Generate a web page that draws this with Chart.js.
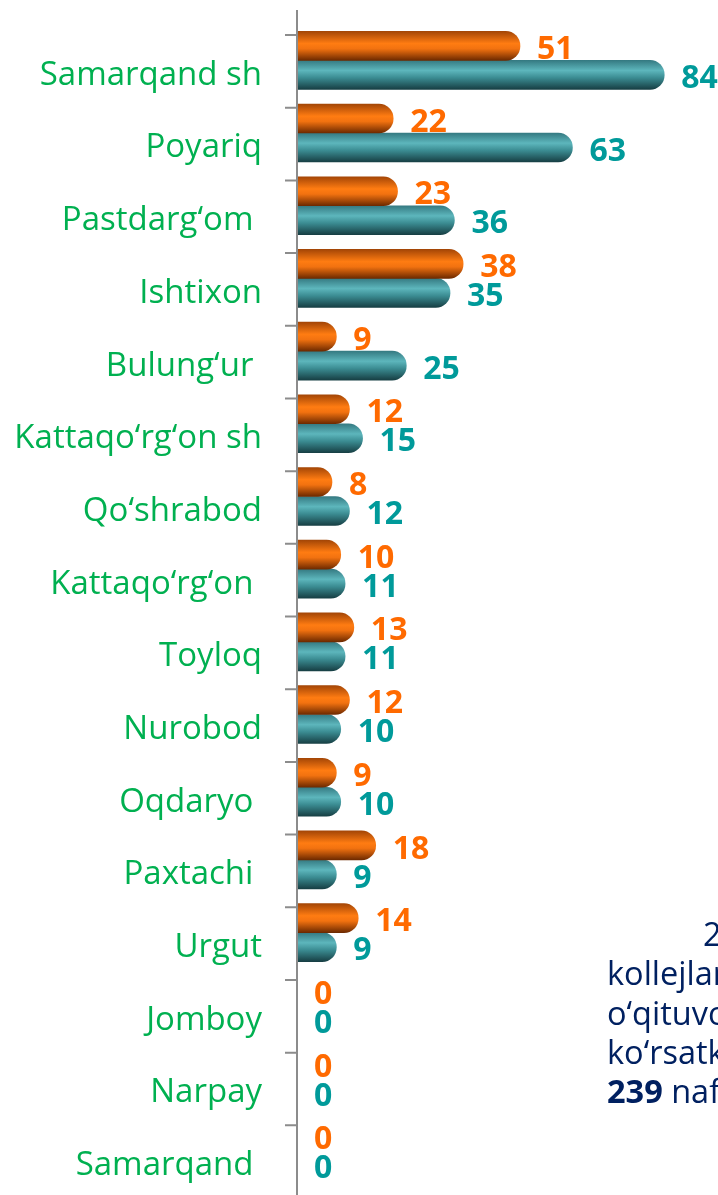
<!DOCTYPE html>
<html>
<head>
<meta charset="utf-8">
<script src="https://cdn.jsdelivr.net/npm/chart.js@4.4.1/dist/chart.umd.min.js"></script>
<style>
  html, body { margin: 0; padding: 0; background: #fff; overflow: hidden; }
  #wrap { position: relative; width: 718px; height: 1195px; overflow: hidden; }
  #chart { position: absolute; left: 0; top: 0; }
  .note { position: absolute; left: 607px; top: 914px; width: 400px;
          font-family: "Open Sans", sans-serif; font-size: 32.5px; line-height: 39.3px;
          color: #002060; white-space: nowrap; }
  .note b { font-weight: 700; }
</style>
</head>
<body>
<div id="wrap">
  <canvas id="chart" width="718" height="1198"></canvas>
  <div class="note">
    <div style="padding-left:96px">2</div>
    <div>kollejlar</div>
    <div>o‘qituvchilar</div>
    <div>ko‘rsatkichi</div>
    <div><b>239</b> nafar</div>
  </div>
</div>
<script>
const districts = ["Samarqand sh", "Poyariq", "Pastdarg‘om ", "Ishtixon", "Bulung‘ur ",
    "Kattaqo‘rg‘on sh", "Qo‘shrabod", "Kattaqo‘rg‘on ", "Toyloq", "Nurobod",
    "Oqdaryo ", "Paxtachi ", "Urgut", "Jomboy", "Narpay", "Samarqand "];
const orangeValues = [51, 22, 23, 38, 9, 12, 8, 10, 13, 12, 9, 18, 14, 0, 0, 0];
const tealValues = [84, 63, 36, 35, 25, 15, 12, 11, 11, 10, 10, 9, 9, 0, 0, 0];

const BAR = 29;
const SHIFT = 11;   // bars sit a bit above the middle of each category band
const AXIS = "#8c8c8c";

function barGradient(ctx, datasetIndex) {
    const solid = datasetIndex === 0 ? "#ff7a10" : "#3f9aa0";
    const chart = ctx.chart;
    const y = chart.scales && chart.scales.y;
    if (!y || ctx.type !== "data") return solid;
    const c = y.getPixelForValue(ctx.dataIndex);
    if (!isFinite(c)) return solid;
    const top = datasetIndex === 0 ? c - BAR : c;
    const g = chart.ctx.createLinearGradient(0, top, 0, top + BAR);
    if (datasetIndex === 0) {
        g.addColorStop(0, "#a44606");
        g.addColorStop(0.42, "#ff7c12");
        g.addColorStop(0.6, "#f27210");
        g.addColorStop(1, "#6e2a00");
    } else {
        g.addColorStop(0, "#357a82");
        g.addColorStop(0.35, "#5db6bc");
        g.addColorStop(0.6, "#3b8c92");
        g.addColorStop(1, "#173f44");
    }
    return g;
}

// value labels next to bar ends
const valueLabels = {
    id: "valueLabels",
    afterDatasetsDraw(chart) {
        const ctx = chart.ctx;
        const colors = ["#ff6a00", "#009a9a"];
        ctx.save();
        ctx.font = "bold 32px 'Open Sans', sans-serif";
        ctx.textBaseline = "middle";
        ctx.textAlign = "left";
        chart.data.datasets.forEach((ds, di) => {
            const meta = chart.getDatasetMeta(di);
            meta.data.forEach((bar, i) => {
                ctx.fillStyle = colors[di];
                ctx.fillText(String(ds.data[i]), bar.x + 17, bar.y + 4);
            });
        });
        ctx.restore();
    }
};

// vertical axis line and the tick marks between categories
const axisMarks = {
    id: "axisMarks",
    afterDraw(chart) {
        const ctx = chart.ctx;
        const y = chart.scales.y;
        const x = chart.chartArea.left;
        const step = y.getPixelForValue(1) - y.getPixelForValue(0);
        ctx.save();
        ctx.strokeStyle = AXIS;
        ctx.lineWidth = 2;
        ctx.beginPath();
        ctx.moveTo(x, 10);
        ctx.lineTo(x, chart.height);
        for (let i = 0; i < districts.length; i++) {
            const ty = y.getPixelForValue(i) - step / 2 + SHIFT;
            ctx.moveTo(x - 12, ty);
            ctx.lineTo(x, ty);
        }
        ctx.stroke();
        ctx.restore();
    }
};

new Chart(document.getElementById("chart"), {
    type: "bar",
    data: {
        labels: districts,
        datasets: [{
            data: orangeValues,
            backgroundColor: (ctx) => barGradient(ctx, 0),
            borderRadius: 15,
            borderSkipped: "start",
            barThickness: BAR
        }, {
            data: tealValues,
            backgroundColor: (ctx) => barGradient(ctx, 1),
            borderRadius: 15,
            borderSkipped: "start",
            barThickness: BAR
        }]
    },
    options: {
        indexAxis: "y",
        responsive: false,
        animation: false,
        layout: { padding: { top: 35 - SHIFT, right: 0, bottom: SHIFT, left: 0 } },
        plugins: { legend: { display: false }, tooltip: { enabled: false } },
        scales: {
            x: {
                display: false,
                min: 0,
                max: 96.3
            },
            y: {
                afterFit(scale) {
                    scale.width = 297;
                    scale.paddingTop = 0;
                    scale.paddingBottom = 0;
                },
                grid: {
                    drawOnChartArea: false,
                    drawTicks: false,
                    tickLength: 12
                },
                border: { display: false },
                ticks: {
                    padding: 35,
                    labelOffset: 15,
                    autoSkip: false,
                    color: "#00b050",
                    font: { family: "'Open Sans', sans-serif", size: 33 }
                }
            }
        }
    },
    plugins: [valueLabels, axisMarks]
});
</script>
</body>
</html>
